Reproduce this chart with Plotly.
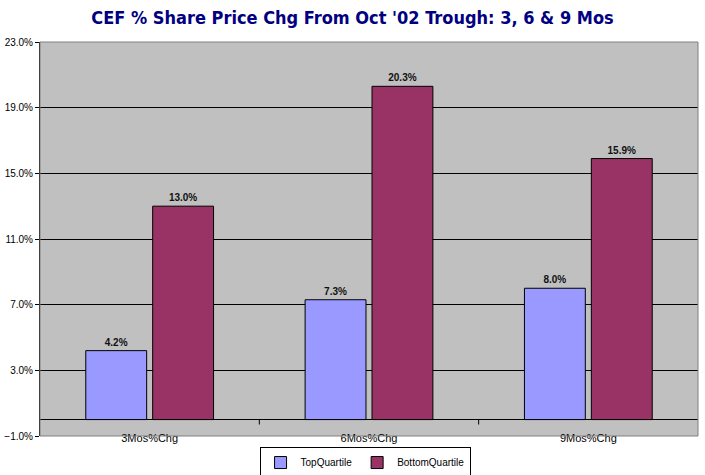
import plotly.graph_objects as go

categories = ["3Mos%Chg", "6Mos%Chg", "9Mos%Chg"]
top_quartile = [4.2, 7.3, 8.0]
bottom_quartile = [13.0, 20.3, 15.9]
series_names = ["TopQuartile", "BottomQuartile"]
title_text = "CEF % Share Price Chg From Oct '02 Trough: 3, 6 & 9 Mos"

fig = go.Figure()
for name, vals, col in [(series_names[0], top_quartile, "#9999FF"),
                        (series_names[1], bottom_quartile, "#993366")]:
    fig.add_trace(go.Bar(
        x=categories, y=vals, name=name,
        marker=dict(color=col, line=dict(color="black", width=1)),
        texttemplate="<b>%{y:.1f}%</b>", textposition="outside",
        textfont=dict(family="Arial, Liberation Sans", size=10, color="#111111"),
        cliponaxis=False,
    ))

# category boundary tick marks on the zero line
for i in range(len(categories) - 1):
    fig.add_shape(type="line", xref="x", yref="y",
                  x0=i + 0.5, x1=i + 0.5, y0=0, y1=-0.3,
                  line=dict(color="black", width=1))

fig.update_layout(
    width=705, height=475,
    margin=dict(l=40, r=7, t=42, b=39, autoexpand=False),
    paper_bgcolor="white", plot_bgcolor="#C0C0C0",
    barmode="group", bargap=0.39, bargroupgap=0.09,
    title=dict(text="<b>" + title_text + "</b>", x=0.5, xanchor="center",
               y=0.963, yanchor="middle",
               font=dict(family="DejaVu Sans Condensed, DejaVu Sans, Arial", size=18, color="#000080")),
    font=dict(family="Arial, Liberation Sans", size=10, color="black"),
    showlegend=True,
    legend=dict(orientation="h", x=0.494, xanchor="center", y=-0.028, yanchor="top",
                bordercolor="black", borderwidth=1, bgcolor="white",
                font=dict(size=10, family="Arial, Liberation Sans"),
                itemwidth=30, tracegroupgap=0),
)
fig.update_yaxes(range=[-1, 23], tick0=-1, dtick=4, tickformat=".1f", ticksuffix="%",
                 showgrid=True, gridcolor="black", gridwidth=1,
                 zeroline=True, zerolinecolor="black", zerolinewidth=1,
                 showline=True, linecolor="black", linewidth=1,
                 ticks="outside", ticklen=4, tickcolor="black",
                 tickfont=dict(size=10, family="Arial, Liberation Sans"), mirror=False)
fig.update_xaxes(showline=False, ticks="", tickfont=dict(size=11),
                 ticklabelstandoff=-6)
# gray plot border on top/right/bottom
fig.add_shape(type="rect", xref="paper", yref="paper", x0=0, x1=1, y0=0, y1=1,
              line=dict(color="#808080", width=1), layer="above")

fig.write_html("out.html")
